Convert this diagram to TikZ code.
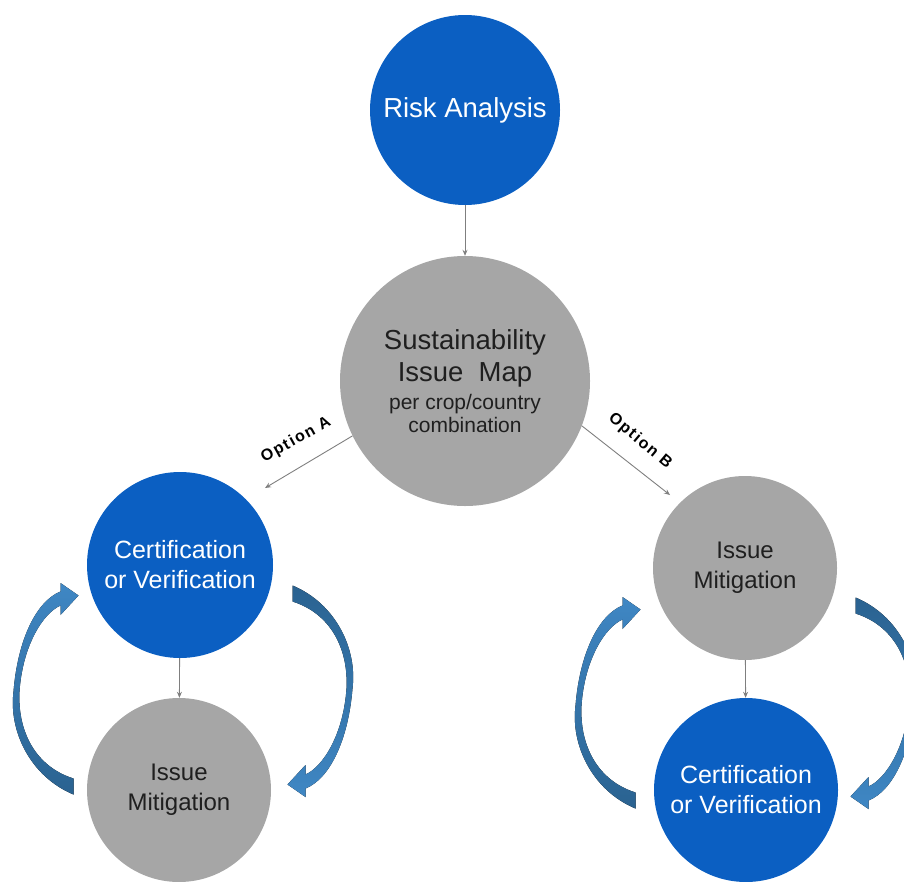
\documentclass[tikz,border=0pt]{standalone}
\usepackage{fontspec}
\setmainfont{Liberation Sans}
\newfontfamily\optfont[LetterSpace=10]{Liberation Sans}
\usepackage{xcolor}
\usetikzlibrary{arrows.meta}

\definecolor{riskblue}{HTML}{0B5FC2}
\definecolor{mapgray}{HTML}{A6A6A6}
\definecolor{flowlight}{HTML}{3F87C4}
\definecolor{flowdark}{HTML}{2A6290}
\definecolor{linkgray}{HTML}{7F7F7F}

\tikzset{
  flowshade/.style={top color=flowlight, bottom color=flowdark},
  flowarrow/.pic={
    \fill[flowshade]
      (-109.5,89.5) -- (-109.5,105.5)
      .. controls (-152.5,87.5) and (-174.5,42.5) .. (-169.5,2.5)
      .. controls (-165.5,-47.5) and (-147.5,-87.5) .. (-122.5,-97.5)
      -- (-122.5,-106) -- (-104.5,-93.5) -- (-122.5,-74)
      -- (-122.5,-83.5)
      .. controls (-140.5,-75.5) and (-160.5,-42.5) .. (-163.5,2.5)
      .. controls (-165.5,42.5) and (-147.5,77.5) .. (-109.5,89.5) -- cycle;
  }
}

\begin{document}
\begin{tikzpicture}[x=1pt, y=-1pt,
  bluenode/.style={circle, fill=riskblue, text=white, inner sep=0pt, align=center, font=\fontsize{25}{30}\selectfont},
  graynode/.style={circle, fill=mapgray, text=black!88, inner sep=0pt, align=center, font=\fontsize{24}{30}\selectfont},
  link/.style={draw=linkgray, line width=0.9pt, -{Stealth[length=6pt,width=5pt]}},
  optlabel/.style={font=\optfont\bfseries\fontsize{16}{18}\selectfont, inner sep=0pt},
  downshade/.style={flowshade/.style={top color=flowdark, bottom color=flowlight}}]

  \useasboundingbox (0,0) rectangle (904,881);

  \node[bluenode, minimum size=190pt, font=\fontsize{27.5}{32}\selectfont] (risk) at (465,110) {Risk Analysis};
  \node[graynode, minimum size=250pt, font=\fontsize{27.5}{32}\selectfont] (map) at (465,381)
    {Sustainability\\Issue\ \ Map\\[-4pt]{\fontsize{21}{23}\selectfont per crop/country}\\[-9pt]{\fontsize{21}{23}\selectfont combination}};

  % option A
  \node[bluenode, minimum size=186pt] (certA) at (180,565) {Certification\\or Verification};
  \node[graynode, minimum size=184pt] (mitA) at (179,790) {Issue\\Mitigation};

  % option B
  \node[graynode, minimum size=184pt] (mitB) at (745,568) {Issue\\Mitigation};
  \node[bluenode, minimum size=184pt] (certB) at (746,790) {Certification\\or Verification};

  \coordinate (tipA) at (265,488);
  \coordinate (tipB) at (670,495);

  \draw[link] (risk) -- (map);
  \draw[link] (map.206) -- (tipA);
  \draw[link] (map.-21) -- (tipB);
  \draw[link] (certA) -- (mitA);
  \draw[link] (mitB) -- (certB);

  \node[optlabel, rotate=29] (optA) at (296,440) {Option A};
  \node[optlabel, rotate=-40] (optB) at (640,441) {Option B};

  % loops between the two steps
  \pic at (183,689) {flowarrow};
  \pic[rotate=180, downshade] at (183,691) {flowarrow};
  \pic at (745,703) {flowarrow};
  \pic[rotate=180, downshade] at (746,703) {flowarrow};
\end{tikzpicture}
\end{document}
